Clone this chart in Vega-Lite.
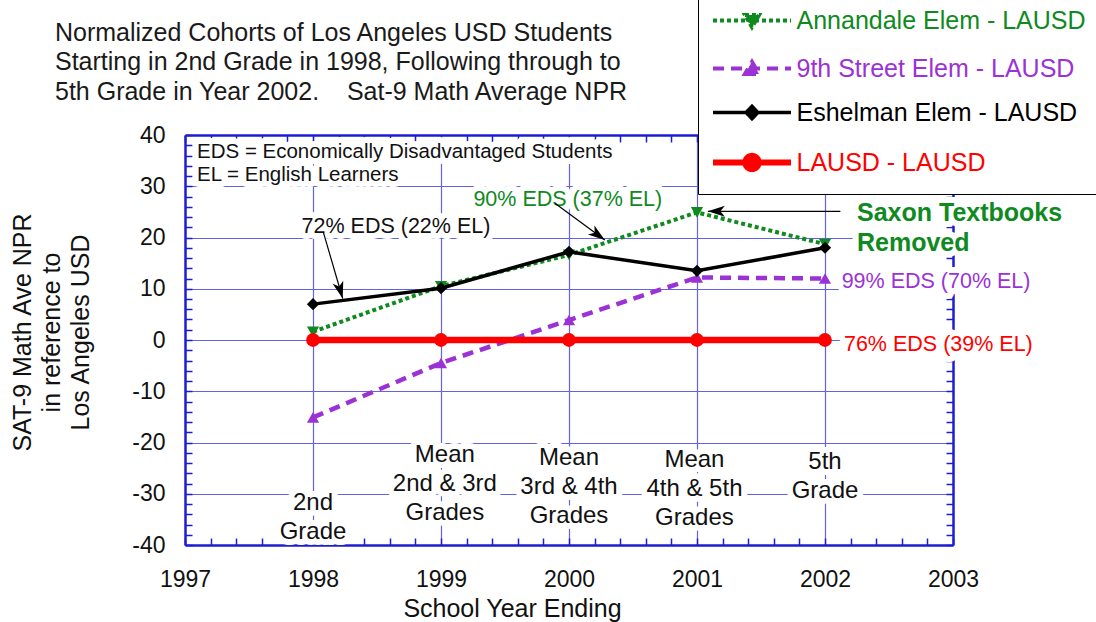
{
  "$schema": "https://vega.github.io/schema/vega-lite/v6.json",
  "width": 768,
  "height": 410,
  "autosize": {"type": "none"},
  "padding": {"left": 185, "top": 135, "right": 143, "bottom": 77},
  "background": "white",
  "title": {
    "text": ["Normalized Cohorts of Los Angeles USD Students", "Starting in 2nd Grade in 1998, Following through to", "5th Grade in Year 2002.\u00a0\u00a0\u00a0 Sat-9 Math Average NPR"],
    "anchor": "start",
    "frame": "group",
    "orient": "top",
    "dx": -130,
    "dy": 109,
    "offset": 0,
    "font": "Liberation Sans",
    "fontSize": 25,
    "fontWeight": "normal",
    "color": "#1a1a1a",
    "lineHeight": 29.5
  },
  "config": {
    "view": {"stroke": null},
    "font": "Liberation Sans"
  },
  "datasets": {
    "scores": [
      {"school": "Annandale Elem - LAUSD", "year": 1998, "npr": 1.6},
      {"school": "Annandale Elem - LAUSD", "year": 1999, "npr": 10.5},
      {"school": "Annandale Elem - LAUSD", "year": 2000, "npr": 16.6},
      {"school": "Annandale Elem - LAUSD", "year": 2001, "npr": 24.9},
      {"school": "Annandale Elem - LAUSD", "year": 2002, "npr": 18.7},
      {"school": "9th Street Elem - LAUSD", "year": 1998, "npr": -15.1},
      {"school": "9th Street Elem - LAUSD", "year": 1999, "npr": -4.5},
      {"school": "9th Street Elem - LAUSD", "year": 2000, "npr": 3.9},
      {"school": "9th Street Elem - LAUSD", "year": 2001, "npr": 12.2},
      {"school": "9th Street Elem - LAUSD", "year": 2002, "npr": 12.0},
      {"school": "Eshelman Elem - LAUSD", "year": 1998, "npr": 7.0},
      {"school": "Eshelman Elem - LAUSD", "year": 1999, "npr": 10.1},
      {"school": "Eshelman Elem - LAUSD", "year": 2000, "npr": 17.2},
      {"school": "Eshelman Elem - LAUSD", "year": 2001, "npr": 13.5},
      {"school": "Eshelman Elem - LAUSD", "year": 2002, "npr": 18.0},
      {"school": "LAUSD - LAUSD", "year": 1998, "npr": 0},
      {"school": "LAUSD - LAUSD", "year": 1999, "npr": 0},
      {"school": "LAUSD - LAUSD", "year": 2000, "npr": 0},
      {"school": "LAUSD - LAUSD", "year": 2001, "npr": 0},
      {"school": "LAUSD - LAUSD", "year": 2002, "npr": 0}
    ]
  },
  "resolve": {"axis": {"x": "independent", "y": "independent"}},
  "layer": [
    {
      "data": {"values": [
        {"label": "2nd\nGrade", "year": 1998, "npr": -31.75},
        {"label": "Mean\n2nd & 3rd\nGrades", "year": 1999.03, "npr": -22.44},
        {"label": "Mean\n3rd & 4th\nGrades", "year": 2000, "npr": -22.96},
        {"label": "Mean\n4th & 5th\nGrades", "year": 2000.98, "npr": -23.41},
        {"label": "5th\nGrade", "year": 2002, "npr": -23.75}
      ]},
      "encoding": {
        "x": {"field": "year", "type": "quantitative", "scale": {"domain": [1997, 2003], "nice": false, "zero": false}, "axis": null},
        "y": {"field": "npr", "type": "quantitative", "scale": {"domain": [-40, 40], "nice": false, "zero": false}, "axis": null},
        "text": {"field": "label"}
      },
      "layer": [
        {"mark": {"type": "text", "lineBreak": "\n", "fontSize": 24, "lineHeight": 29, "align": "center", "baseline": "middle", "stroke": "white", "strokeWidth": 12, "strokeJoin": "round", "fill": "white"}},
        {"mark": {"type": "text", "lineBreak": "\n", "fontSize": 24, "lineHeight": 29, "align": "center", "baseline": "middle", "fill": "#111111"}}
      ]
    },
    {
      "data": {"values": [
        {"label": "EDS = Economically Disadvantaged Students", "year": 1997.094, "npr": 36.6},
        {"label": "EL = English Learners", "year": 1997.094, "npr": 32.2}
      ]},
      "encoding": {
        "x": {"field": "year", "type": "quantitative", "scale": {"domain": [1997, 2003], "nice": false, "zero": false}, "axis": null},
        "y": {"field": "npr", "type": "quantitative", "scale": {"domain": [-40, 40], "nice": false, "zero": false}, "axis": null},
        "text": {"field": "label"}
      },
      "layer": [
        {"mark": {"type": "text", "fontSize": 20.5, "align": "left", "baseline": "middle", "stroke": "white", "strokeWidth": 12, "strokeJoin": "round", "fill": "white"}},
        {"mark": {"type": "text", "fontSize": 20.5, "align": "left", "baseline": "middle", "fill": "#111111"}}
      ]
    },
    {
      "data": {"values": [
        {"label": "72% EDS (22% EL)", "year": 1998.648, "npr": 22.0}
      ]},
      "encoding": {
        "x": {"field": "year", "type": "quantitative", "scale": {"domain": [1997, 2003], "nice": false, "zero": false}, "axis": null},
        "y": {"field": "npr", "type": "quantitative", "scale": {"domain": [-40, 40], "nice": false, "zero": false}, "axis": null},
        "text": {"field": "label"}
      },
      "layer": [
        {"mark": {"type": "text", "fontSize": 21.5, "align": "center", "baseline": "middle", "stroke": "white", "strokeWidth": 12, "strokeJoin": "round", "fill": "white"}},
        {"mark": {"type": "text", "fontSize": 21.5, "align": "center", "baseline": "middle", "fill": "#111111"}}
      ]
    },
    {
      "data": {"values": [
        {"label": "90% EDS (37% EL)", "year": 1999.253, "npr": 27.3}
      ]},
      "encoding": {
        "x": {"field": "year", "type": "quantitative", "scale": {"domain": [1997, 2003], "nice": false, "zero": false}, "axis": null},
        "y": {"field": "npr", "type": "quantitative", "scale": {"domain": [-40, 40], "nice": false, "zero": false}, "axis": null},
        "text": {"field": "label"}
      },
      "layer": [
        {"mark": {"type": "text", "fontSize": 21.5, "align": "left", "baseline": "middle", "stroke": "white", "strokeWidth": 12, "strokeJoin": "round", "fill": "white"}},
        {"mark": {"type": "text", "fontSize": 21.5, "align": "left", "baseline": "middle", "fill": "#0e8a1e"}}
      ]
    },
    {
      "data": {"values": [
        {"label": "99% EDS (70% EL)", "year": 2002.13, "npr": 11.3}
      ]},
      "encoding": {
        "x": {"field": "year", "type": "quantitative", "scale": {"domain": [1997, 2003], "nice": false, "zero": false}, "axis": null},
        "y": {"field": "npr", "type": "quantitative", "scale": {"domain": [-40, 40], "nice": false, "zero": false}, "axis": null},
        "text": {"field": "label"}
      },
      "layer": [
        {"mark": {"type": "text", "fontSize": 21.5, "align": "left", "baseline": "middle", "stroke": "white", "strokeWidth": 12, "strokeJoin": "round", "fill": "white"}},
        {"mark": {"type": "text", "fontSize": 21.5, "align": "left", "baseline": "middle", "fill": "#9b32d6"}}
      ]
    },
    {
      "data": {"values": [
        {"label": "76% EDS (39% EL)", "year": 2002.148, "npr": -1.0}
      ]},
      "encoding": {
        "x": {"field": "year", "type": "quantitative", "scale": {"domain": [1997, 2003], "nice": false, "zero": false}, "axis": null},
        "y": {"field": "npr", "type": "quantitative", "scale": {"domain": [-40, 40], "nice": false, "zero": false}, "axis": null},
        "text": {"field": "label"}
      },
      "layer": [
        {"mark": {"type": "text", "fontSize": 21.5, "align": "left", "baseline": "middle", "stroke": "white", "strokeWidth": 12, "strokeJoin": "round", "fill": "white"}},
        {"mark": {"type": "text", "fontSize": 21.5, "align": "left", "baseline": "middle", "fill": "#ff0000"}}
      ]
    },
    {
      "data": {"values": [
        {"label": "Saxon Textbooks\nRemoved", "year": 2002.25, "npr": 24.78}
      ]},
      "encoding": {
        "x": {"field": "year", "type": "quantitative", "scale": {"domain": [1997, 2003], "nice": false, "zero": false}, "axis": null},
        "y": {"field": "npr", "type": "quantitative", "scale": {"domain": [-40, 40], "nice": false, "zero": false}, "axis": null},
        "text": {"field": "label"}
      },
      "layer": [
        {"mark": {"type": "text", "lineBreak": "\n", "lineHeight": 30, "fontSize": 25, "fontWeight": "bold", "align": "left", "baseline": "middle", "stroke": "white", "strokeWidth": 12, "strokeJoin": "round", "fill": "white"}},
        {"mark": {"type": "text", "lineBreak": "\n", "lineHeight": 30, "fontSize": 25, "fontWeight": "bold", "align": "left", "baseline": "middle", "fill": "#0e8a1e"}}
      ]
    },
    {
      "data": {"name": "scores"},
      "transform": [{"filter": "datum.school === 'Annandale Elem - LAUSD'"}],
      "mark": {"type": "line", "color": "#0e8a1e", "strokeWidth": 4, "strokeDash": [4, 3]},
      "encoding": {
        "x": {
          "field": "year", "type": "quantitative",
          "scale": {"domain": [1997, 2003], "nice": false, "zero": false},
          "axis": {
            "orient": "bottom",
            "values": [1997, 1997.2, 1997.4, 1997.6, 1997.8, 1998, 1998.2, 1998.4, 1998.6, 1998.8, 1999, 1999.2, 1999.4, 1999.6, 1999.8, 2000, 2000.2, 2000.4, 2000.6, 2000.8, 2001, 2001.2, 2001.4, 2001.6, 2001.8, 2002, 2002.2, 2002.4, 2002.6, 2002.8, 2003],
            "labelExpr": "datum.value % 1 === 0 ? '' + datum.value : ''",
            "labelFontSize": 23,
            "labelColor": "#111111",
            "labelPadding": 30,
            "labelOverlap": false,
            "labelFlush": false,
            "tickSize": -7,
            "tickColor": "#1c1cd6",
            "tickWidth": 1.5,
            "domainColor": "#1c1cd6",
            "domainWidth": 2.5,
            "grid": true,
            "gridColor": "#6262e6",
            "gridWidth": 1.2,
            "gridOpacity": {"condition": {"test": "datum.value % 1 === 0 && datum.value > 1997 && datum.value < 2003", "value": 1}, "value": 0},
            "title": "School Year Ending",
            "titleFontSize": 25,
            "titleFontWeight": "normal",
            "titleColor": "#111111",
            "titleX": 327,
            "titleY": 63,
            "titleBaseline": "middle",
            "titleAlign": "center"
          }
        },
        "y": {
          "field": "npr", "type": "quantitative",
          "scale": {"domain": [-40, 40], "nice": false, "zero": false},
          "axis": {
            "orient": "left",
            "values": [-40, -38, -36, -34, -32, -30, -28, -26, -24, -22, -20, -18, -16, -14, -12, -10, -8, -6, -4, -2, 0, 2, 4, 6, 8, 10, 12, 14, 16, 18, 20, 22, 24, 26, 28, 30, 32, 34, 36, 38, 40],
            "labelExpr": "datum.value % 10 === 0 ? '' + datum.value : ''",
            "labelFontSize": 23,
            "labelColor": "#111111",
            "labelPadding": 27,
            "labelOverlap": false,
            "labelFlush": false,
            "tickSize": -7,
            "tickColor": "#1c1cd6",
            "tickWidth": 1.5,
            "domainColor": "#1c1cd6",
            "domainWidth": 2.5,
            "grid": true,
            "gridColor": "#6262e6",
            "gridWidth": 1.2,
            "gridOpacity": {"condition": {"test": "datum.value % 10 === 0 && abs(datum.value) < 40", "value": 1}, "value": 0},
            "title": ["SAT-9 Math Ave NPR", "in reference to", "Los Angeles USD"],
            "titleFontSize": 25,
            "titleFontWeight": "normal",
            "titleColor": "#111111",
            "titleLineHeight": 29,
            "titleAngle": -90,
            "titleX": -163,
            "titleY": 197,
            "titleAlign": "center",
            "titleBaseline": "middle"
          }
        }
      }
    },
    {
      "data": {"name": "scores"},
      "transform": [{"filter": "datum.school === '9th Street Elem - LAUSD'"}],
      "mark": {"type": "line", "color": "#9b32d6", "strokeWidth": 4.5, "strokeDash": [11, 7]},
      "encoding": {
        "x": {"field": "year", "type": "quantitative", "scale": {"domain": [1997, 2003], "nice": false, "zero": false}, "axis": null},
        "y": {"field": "npr", "type": "quantitative", "scale": {"domain": [-40, 40], "nice": false, "zero": false}, "axis": null}
      }
    },
    {
      "data": {"name": "scores"},
      "transform": [{"filter": "datum.school === 'Eshelman Elem - LAUSD'"}],
      "mark": {"type": "line", "color": "#000000", "strokeWidth": 3.5},
      "encoding": {
        "x": {"field": "year", "type": "quantitative", "scale": {"domain": [1997, 2003], "nice": false, "zero": false}, "axis": null},
        "y": {"field": "npr", "type": "quantitative", "scale": {"domain": [-40, 40], "nice": false, "zero": false}, "axis": null}
      }
    },
    {
      "data": {"name": "scores"},
      "transform": [{"filter": "datum.school === 'LAUSD - LAUSD'"}],
      "mark": {"type": "line", "color": "#ff0000", "strokeWidth": 6.5},
      "encoding": {
        "x": {
          "field": "year", "type": "quantitative",
          "scale": {"domain": [1997, 2003], "nice": false, "zero": false},
          "axis": {
            "orient": "top",
            "values": [1997, 1997.2, 1997.4, 1997.6, 1997.8, 1998, 1998.2, 1998.4, 1998.6, 1998.8, 1999, 1999.2, 1999.4, 1999.6, 1999.8, 2000, 2000.2, 2000.4, 2000.6, 2000.8, 2001, 2001.2, 2001.4, 2001.6, 2001.8, 2002, 2002.2, 2002.4, 2002.6, 2002.8, 2003],
            "labels": false,
            "grid": false,
            "tickSize": -7,
            "tickColor": "#1c1cd6",
            "tickWidth": 1.5,
            "domainColor": "#1c1cd6",
            "domainWidth": 2.5,
            "title": null
          }
        },
        "y": {
          "field": "npr", "type": "quantitative",
          "scale": {"domain": [-40, 40], "nice": false, "zero": false},
          "axis": {
            "orient": "right",
            "values": [-40, -38, -36, -34, -32, -30, -28, -26, -24, -22, -20, -18, -16, -14, -12, -10, -8, -6, -4, -2, 0, 2, 4, 6, 8, 10, 12, 14, 16, 18, 20, 22, 24, 26, 28, 30, 32, 34, 36, 38, 40],
            "labels": false,
            "grid": false,
            "tickSize": -7,
            "tickColor": "#1c1cd6",
            "tickWidth": 1.5,
            "domainColor": "#1c1cd6",
            "domainWidth": 2.5,
            "title": null
          }
        }
      }
    },
    {
      "data": {"name": "scores"},
      "transform": [{"filter": "datum.school === 'Annandale Elem - LAUSD'"}],
      "mark": {"type": "point", "shape": "triangle-down", "filled": true, "opacity": 1, "size": 150, "strokeWidth": 0},
      "encoding": {
        "x": {"field": "year", "type": "quantitative", "scale": {"domain": [1997, 2003], "nice": false, "zero": false}, "axis": null},
        "y": {"field": "npr", "type": "quantitative", "scale": {"domain": [-40, 40], "nice": false, "zero": false}, "axis": null},
        "color": {
          "field": "school", "type": "nominal",
          "scale": {"domain": ["Annandale Elem - LAUSD", "9th Street Elem - LAUSD", "Eshelman Elem - LAUSD", "LAUSD - LAUSD"], "range": ["#0e8a1e", "#9b32d6", "#000000", "#ff0000"]},
          "legend": {
            "orient": "none",
            "legendX": 513,
            "legendY": -139,
            "title": null,
            "labelFontSize": 25,
            "labelFont": "Liberation Sans",
            "labelOffset": 32,
            "labelLimit": 500,
            "labelColor": {"expr": "scale('color', datum.value)"},
            "symbolSize": 6084,
            "symbolOffset": 29.5,
            "symbolType": {"expr": "datum.value === 'Annandale Elem - LAUSD' ? 'M-1,0H1M-0.18,-0.14L0.18,-0.14L0,0.17Z' : datum.value === '9th Street Elem - LAUSD' ? 'M-1,0H1M-0.18,0.14L0.18,0.14L0,-0.17Z' : datum.value === 'Eshelman Elem - LAUSD' ? 'M-1,0H1M0,-0.16L0.15,0L0,0.16L-0.15,0Z' : 'M-1,0H1M-0.17,0A0.17,0.17 0 1,0 0.17,0A0.17,0.17 0 1,0 -0.17,0Z'"},
            "symbolStrokeColor": {"expr": "scale('color', datum.value)"},
            "symbolFillColor": {"expr": "scale('color', datum.value)"},
            "symbolStrokeWidth": {"expr": "datum.value === 'LAUSD - LAUSD' ? 6 : datum.value === 'Eshelman Elem - LAUSD' ? 3.5 : 4"},
            "symbolDash": {"expr": "datum.value === 'Annandale Elem - LAUSD' ? [4, 3] : datum.value === '9th Street Elem - LAUSD' ? [11, 7] : [1, 0]"},
            "symbolOpacity": 1,
            "padding": 12,
            "rowPadding": 17,
            "fillColor": "white",
            "strokeColor": "black",
            "zindex": 1
          }
        }
      }
    },
    {
      "data": {"name": "scores"},
      "transform": [{"filter": "datum.school === '9th Street Elem - LAUSD'"}],
      "mark": {"type": "point", "shape": "triangle-up", "filled": true, "opacity": 1, "size": 150, "strokeWidth": 0, "color": "#9b32d6"},
      "encoding": {
        "x": {"field": "year", "type": "quantitative", "scale": {"domain": [1997, 2003], "nice": false, "zero": false}, "axis": null},
        "y": {"field": "npr", "type": "quantitative", "scale": {"domain": [-40, 40], "nice": false, "zero": false}, "axis": null}
      }
    },
    {
      "data": {"name": "scores"},
      "transform": [{"filter": "datum.school === 'Eshelman Elem - LAUSD'"}],
      "mark": {"type": "point", "shape": "diamond", "filled": true, "opacity": 1, "size": 150, "strokeWidth": 0, "color": "#000000"},
      "encoding": {
        "x": {"field": "year", "type": "quantitative", "scale": {"domain": [1997, 2003], "nice": false, "zero": false}, "axis": null},
        "y": {"field": "npr", "type": "quantitative", "scale": {"domain": [-40, 40], "nice": false, "zero": false}, "axis": null}
      }
    },
    {
      "data": {"name": "scores"},
      "transform": [{"filter": "datum.school === 'LAUSD - LAUSD'"}],
      "mark": {"type": "point", "shape": "circle", "filled": true, "opacity": 1, "size": 190, "strokeWidth": 0, "color": "#ff0000"},
      "encoding": {
        "x": {"field": "year", "type": "quantitative", "scale": {"domain": [1997, 2003], "nice": false, "zero": false}, "axis": null},
        "y": {"field": "npr", "type": "quantitative", "scale": {"domain": [-40, 40], "nice": false, "zero": false}, "axis": null}
      }
    },
    {
      "data": {"values": [
        {"x": 2002.12, "y": 25.1, "x2": 2001.085, "y2": 25.1, "angle": -90},
        {"x": 1998.08, "y": 21.1, "x2": 1998.232, "y2": 8.1, "angle": 163.8},
        {"x": 1999.89, "y": 26.7, "x2": 2000.28, "y2": 19.5, "angle": 126.3}
      ]},
      "layer": [
        {
          "mark": {"type": "rule", "color": "#000000", "strokeWidth": 1.2},
          "encoding": {
            "x": {"field": "x", "type": "quantitative", "scale": {"domain": [1997, 2003], "nice": false, "zero": false}, "axis": null},
            "y": {"field": "y", "type": "quantitative", "scale": {"domain": [-40, 40], "nice": false, "zero": false}, "axis": null},
            "x2": {"field": "x2"},
            "y2": {"field": "y2"}
          }
        },
        {
          "mark": {"type": "point", "shape": "M0,0L0.55,1.7L0,1.25L-0.55,1.7Z", "filled": true, "color": "#000000", "size": 400, "opacity": 1},
          "encoding": {
            "x": {"field": "x2", "type": "quantitative", "scale": {"domain": [1997, 2003], "nice": false, "zero": false}, "axis": null},
            "y": {"field": "y2", "type": "quantitative", "scale": {"domain": [-40, 40], "nice": false, "zero": false}, "axis": null},
            "angle": {"field": "angle", "type": "quantitative", "scale": null}
          }
        }
      ]
    }
  ]
}
